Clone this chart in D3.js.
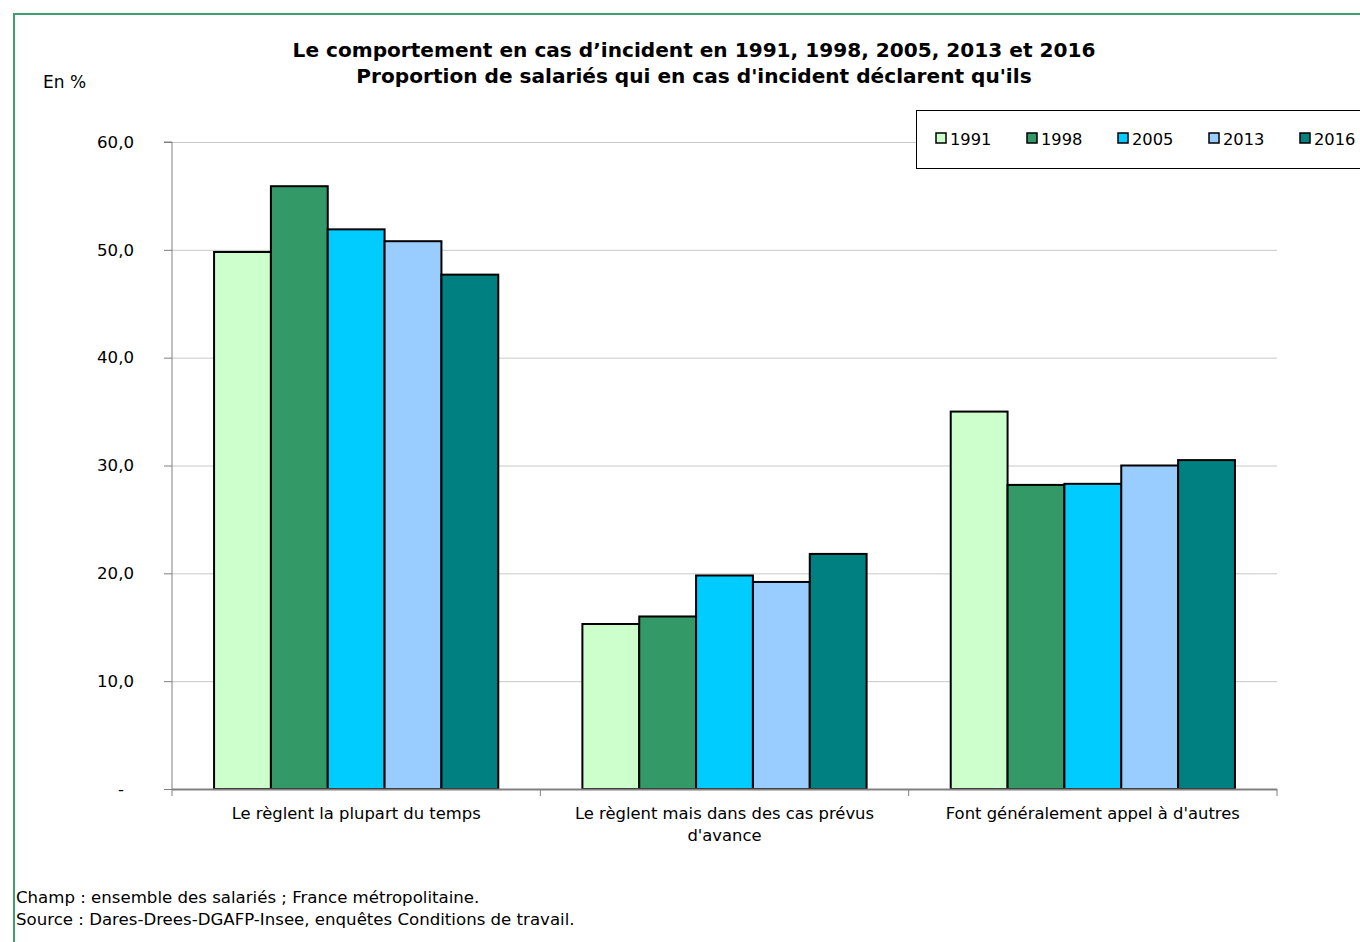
<!DOCTYPE html>
<html><head><meta charset="utf-8">
<script src="https://cdn.jsdelivr.net/npm/d3@7"></script>
<style>
html,body{margin:0;padding:0;background:#fff;}
svg{display:block;font-family:Verdana,"DejaVu Sans",sans-serif;}
</style></head>
<body>
<svg id="chart" width="1360" height="942"></svg>
<script>
const categories = ["Le règlent la plupart du temps", "Le règlent mais dans des cas prévus d'avance", "Font généralement appel à d'autres"];
const categoryLines = [["Le règlent la plupart du temps"], ["Le règlent mais dans des cas prévus", "d'avance"], ["Font généralement appel à d'autres"]];
const years = ["1991", "1998", "2005", "2013", "2016"];
const values1991 = [49.8, 15.3, 35.0];
const values1998 = [55.9, 16.0, 28.2];
const values2005 = [51.9, 19.8, 28.3];
const values2013 = [50.8, 19.2, 30.0];
const values2016 = [47.7, 21.8, 30.5];
const colors = ["#ccffcc", "#339966", "#00ccff", "#99ccff", "#008080"];
const yTicks = [0, 10, 20, 30, 40, 50, 60];
const titleLines = ["Le comportement en cas d\u2019incident en 1991, 1998, 2005, 2013 et 2016", "Proportion de salariés qui en cas d'incident déclarent qu'ils"];
const notes = ["Champ : ensemble des salariés ; France métropolitaine.", "Source : Dares-Drees-DGAFP-Insee, enquêtes Conditions de travail."];

const series = [values1991, values1998, values2005, values2013, values2016];
const svg = d3.select("#chart");

// frame
svg.append("path").attr("d", "M14,942 V14 H1360").attr("fill", "none").attr("stroke", "#3f9f6e").attr("stroke-width", 2);

const pLeft = 172, pRight = 1277, pTop = 142, pBottom = 789;
const x = d3.scaleBand().domain(categories).range([pLeft, pRight]).paddingInner(0).paddingOuter(0);
const xs = d3.scaleBand().domain(years).range([0, x.bandwidth()]).paddingInner(0).paddingOuter(0.74);
const y = d3.scaleLinear().domain([0, 60]).range([pBottom, pTop]);

// gridlines
svg.append("g").selectAll("line").data(yTicks.filter(d => d > 0)).join("line")
  .attr("x1", pLeft).attr("x2", pRight).attr("y1", d => y(d) + 0.5).attr("y2", d => y(d) + 0.5)
  .attr("stroke", "#c8c8c8").attr("stroke-width", 1);

// bars
const g = svg.append("g");
categories.forEach((c, ci) => {
  years.forEach((yr, si) => {
    const v = series[si][ci];
    g.append("rect")
      .attr("x", x(c) + xs(yr)).attr("y", y(v))
      .attr("width", xs.bandwidth()).attr("height", y(0) - y(v))
      .attr("fill", colors[si]).attr("stroke", "#000").attr("stroke-width", 2);
  });
});

// y axis
const yAxis = d3.axisLeft(y).tickValues(yTicks).tickSize(8).tickPadding(30)
  .tickFormat(d => d === 0 ? "-" : d3.format(".1f")(d).replace(".", ","));
const ya = svg.append("g").attr("transform", `translate(${pLeft},0)`).call(yAxis);
ya.select(".domain").attr("stroke", "#808080").attr("d", `M-8,${pTop}H0V${pBottom}`);
ya.selectAll(".tick line").attr("stroke", "#808080");
ya.selectAll(".tick text").attr("font-size", 16.6).attr("fill", "#000").attr("font-family", "Verdana,'DejaVu Sans',sans-serif");
ya.selectAll(".tick text").filter(d => d === 0).attr("dx", -10);

// x axis
const xa = svg.append("g").attr("transform", `translate(0,${pBottom})`);
xa.append("line").attr("x1", pLeft).attr("x2", pRight).attr("y1", 0.5).attr("y2", 0.5).attr("stroke", "#808080").attr("stroke-width", 2);
const bounds = [pLeft].concat(categories.map(c => x(c) + x.bandwidth()));
xa.selectAll("line.t").data(bounds).join("line").attr("class", "t")
  .attr("x1", d => d).attr("x2", d => d).attr("y1", 0).attr("y2", 7).attr("stroke", "#808080");
categories.forEach((c, ci) => {
  const t = xa.append("text").attr("text-anchor", "middle").attr("font-size", 16.4).attr("fill", "#000")
    .attr("x", x(c) + x.bandwidth() / 2).attr("y", 30);
  categoryLines[ci].forEach((l, li) => t.append("tspan").attr("x", x(c) + x.bandwidth() / 2).attr("dy", li === 0 ? 0 : 22).text(l));
});

// title
titleLines.forEach((l, i) => svg.append("text").attr("x", 694).attr("y", 57 + i * 26).attr("text-anchor", "middle")
  .attr("font-size", 20.1).attr("font-weight", "bold").attr("fill", "#000").text(l));

svg.append("text").attr("x", 43).attr("y", 88).attr("font-size", 17).attr("fill", "#000").text("En %");

// legend
svg.append("rect").attr("x", 916.5).attr("y", 110.5).attr("width", 460).attr("height", 58).attr("fill", "#fff").attr("stroke", "#000").attr("stroke-width", 1);
const legX = [936, 1027, 1118, 1209, 1300];
years.forEach((yr, i) => {
  svg.append("rect").attr("x", legX[i]).attr("y", 133).attr("width", 10).attr("height", 10)
    .attr("fill", colors[i]).attr("stroke", "#000").attr("stroke-width", 1.5);
  svg.append("text").attr("x", legX[i] + 14).attr("y", 145).attr("font-size", 16.3).attr("fill", "#000").text(yr);
});

// notes
notes.forEach((n, i) => svg.append("text").attr("x", 16).attr("y", 903 + i * 22).attr("font-size", 16.6).attr("fill", "#000").text(n));
</script>
</body></html>
